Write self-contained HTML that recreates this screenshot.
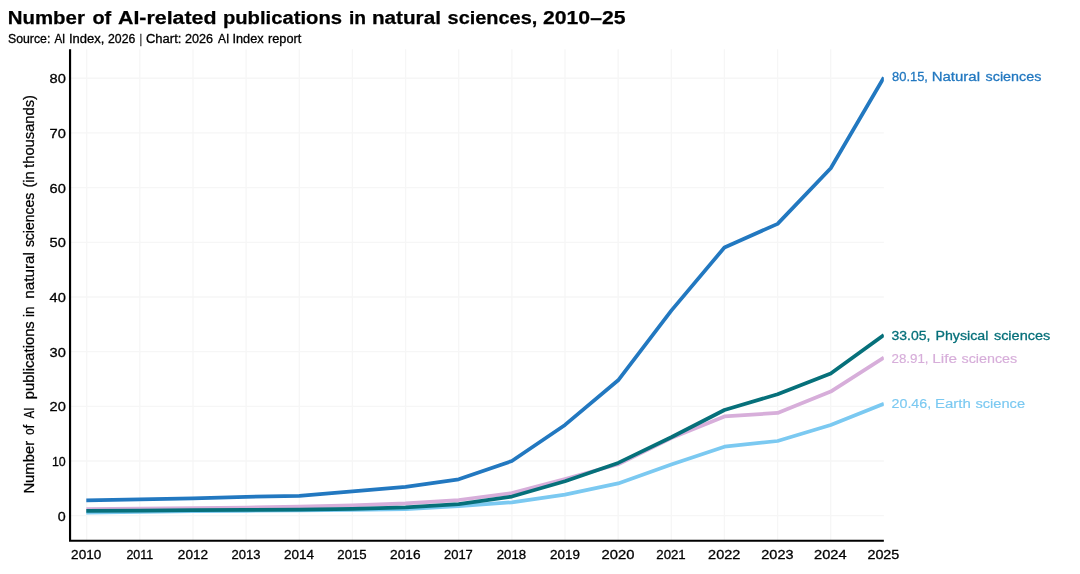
<!DOCTYPE html>
<html lang="en"><head><meta charset="utf-8"><title>Number of AI-related publications in natural sciences, 2010–25</title>
<style>
html,body{margin:0;padding:0;background:#fff;}
body{width:1080px;height:574px;overflow:hidden;font-family:"Liberation Sans",sans-serif;}
svg{display:block;}
text{font-family:"Liberation Sans",sans-serif;}
.t{font-weight:bold;font-size:18.8px;fill:#000;stroke:#000;stroke-width:.25px;}
.s{font-size:12px;fill:#000;stroke:#000;stroke-width:.3px;}
.k{font-size:13px;fill:#000;stroke:#000;stroke-width:.3px;}
.l{font-size:13.7px;stroke-width:.15px;}
.b{stroke-width:.3px;}
.yl{font-size:14.5px;fill:#000;stroke:#000;stroke-width:.25px;}
.ln polyline{fill:none;stroke-width:3.75;stroke-linejoin:round;stroke-linecap:butt;}
</style></head><body>
<svg width="1080" height="574" viewBox="0 0 1080 574">
<defs><clipPath id="ax"><rect x="70.05" y="49.3" width="813.8000000000001" height="491.40000000000003"/></clipPath></defs>
<rect width="1080" height="574" fill="#fff"/>
<path d="M86.70 49.3V540.7M139.84 49.3V540.7M192.99 49.3V540.7M246.13 49.3V540.7M299.28 49.3V540.7M352.43 49.3V540.7M405.57 49.3V540.7M458.72 49.3V540.7M511.86 49.3V540.7M565.00 49.3V540.7M618.15 49.3V540.7M671.30 49.3V540.7M724.44 49.3V540.7M777.59 49.3V540.7M830.73 49.3V540.7M70.05 515.70H883.85M70.05 461.02H883.85M70.05 406.34H883.85M70.05 351.66H883.85M70.05 296.98H883.85M70.05 242.30H883.85M70.05 187.62H883.85M70.05 132.94H883.85M70.05 78.26H883.85" stroke="#f6f6f6" stroke-width="1.3" fill="none"/>
<g class="ln" clip-path="url(#ax)">
<polyline points="86.30,500.28 139.84,499.41 192.99,498.31 246.13,496.89 299.28,495.80 352.43,491.37 405.57,486.88 458.72,479.34 511.86,461.02 565.00,424.93 618.15,380.31 671.30,310.65 724.44,247.49 777.59,223.87 830.73,168.26 883.88,77.44" stroke="#2278c0"/>
<polyline points="86.30,509.14 139.84,508.70 192.99,508.15 246.13,507.50 299.28,506.62 352.43,505.31 405.57,503.29 458.72,500.01 511.86,493.12 565.00,479.06 618.15,464.30 671.30,438.05 724.44,416.46 777.59,412.90 830.73,391.58 883.88,357.62" stroke="#d7aeda"/>
<polyline points="86.30,512.53 139.84,511.76 192.99,511.22 246.13,510.78 299.28,510.40 352.43,509.79 405.57,509.03 458.72,506.13 511.86,502.30 565.00,494.59 618.15,483.44 671.30,464.57 724.44,446.69 777.59,441.01 830.73,424.93 883.88,403.82" stroke="#7bc9f1"/>
<polyline points="86.30,510.78 139.84,510.51 192.99,510.23 246.13,509.90 299.28,509.69 352.43,508.76 405.57,507.39 458.72,504.22 511.86,496.56 565.00,481.25 618.15,462.93 671.30,437.23 724.44,410.00 777.59,394.31 830.73,373.53 883.88,334.98" stroke="#06707a"/>
</g>
<path d="M70.05 49.3V540.7H883.85" stroke="#000" stroke-width="2.15" fill="none" stroke-linejoin="miter"/>
<text class="t" y="24.4"><tspan x="7.71" textLength="77.14" lengthAdjust="spacingAndGlyphs">Number</tspan> <tspan x="92.40" textLength="18.81" lengthAdjust="spacingAndGlyphs">of</tspan> <tspan x="118.00" textLength="98.54" lengthAdjust="spacingAndGlyphs">AI-related</tspan> <tspan x="222.92" textLength="119.16" lengthAdjust="spacingAndGlyphs">publications</tspan> <tspan x="348.97" textLength="17.11" lengthAdjust="spacingAndGlyphs">in</tspan> <tspan x="371.90" textLength="69.05" lengthAdjust="spacingAndGlyphs">natural</tspan> <tspan x="447.60" textLength="89.69" lengthAdjust="spacingAndGlyphs">sciences,</tspan> <tspan x="543.00" textLength="82.50" lengthAdjust="spacingAndGlyphs">2010–25</tspan></text>
<text class="s" y="43.1"><tspan x="8.00" textLength="42.34" lengthAdjust="spacingAndGlyphs">Source:</tspan> <tspan x="54.40" textLength="10.92" lengthAdjust="spacingAndGlyphs">AI</tspan> <tspan x="68.92" textLength="35.45" lengthAdjust="spacingAndGlyphs">Index,</tspan> <tspan x="108.00" textLength="27.27" lengthAdjust="spacingAndGlyphs">2026</tspan> <tspan x="139.70" textLength="2.18" lengthAdjust="spacingAndGlyphs">|</tspan> <tspan x="146.00" textLength="35.36" lengthAdjust="spacingAndGlyphs">Chart:</tspan> <tspan x="185.00" textLength="28.06" lengthAdjust="spacingAndGlyphs">2026</tspan> <tspan x="218.00" textLength="11.33" lengthAdjust="spacingAndGlyphs">AI</tspan> <tspan x="232.54" textLength="31.06" lengthAdjust="spacingAndGlyphs">Index</tspan> <tspan x="268.00" textLength="33.29" lengthAdjust="spacingAndGlyphs">report</tspan></text>
<text class="k" y="520.7"><tspan x="57.80" textLength="7.95" lengthAdjust="spacingAndGlyphs">0</tspan></text>
<text class="k" y="466.02"><tspan x="51.90" textLength="13.82" lengthAdjust="spacingAndGlyphs">10</tspan></text>
<text class="k" y="411.34"><tspan x="49.50" textLength="16.26" lengthAdjust="spacingAndGlyphs">20</tspan></text>
<text class="k" y="356.66"><tspan x="49.50" textLength="16.26" lengthAdjust="spacingAndGlyphs">30</tspan></text>
<text class="k" y="301.98"><tspan x="49.50" textLength="16.26" lengthAdjust="spacingAndGlyphs">40</tspan></text>
<text class="k" y="247.3"><tspan x="49.50" textLength="16.26" lengthAdjust="spacingAndGlyphs">50</tspan></text>
<text class="k" y="192.62"><tspan x="49.50" textLength="16.26" lengthAdjust="spacingAndGlyphs">60</tspan></text>
<text class="k" y="137.94"><tspan x="49.50" textLength="16.26" lengthAdjust="spacingAndGlyphs">70</tspan></text>
<text class="k" y="83.26"><tspan x="49.50" textLength="16.26" lengthAdjust="spacingAndGlyphs">80</tspan></text>
<text class="k" y="559.4"><tspan x="71.10" textLength="30.14" lengthAdjust="spacingAndGlyphs">2010</tspan></text>
<text class="k" y="559.4"><tspan x="126.40" textLength="26.82" lengthAdjust="spacingAndGlyphs">2011</tspan></text>
<text class="k" y="559.4"><tspan x="177.80" textLength="30.34" lengthAdjust="spacingAndGlyphs">2012</tspan></text>
<text class="k" y="559.4"><tspan x="231.60" textLength="28.93" lengthAdjust="spacingAndGlyphs">2013</tspan></text>
<text class="k" y="559.4"><tspan x="284.00" textLength="30.04" lengthAdjust="spacingAndGlyphs">2014</tspan></text>
<text class="k" y="559.4"><tspan x="337.30" textLength="29.33" lengthAdjust="spacingAndGlyphs">2015</tspan></text>
<text class="k" y="559.4"><tspan x="390.10" textLength="30.44" lengthAdjust="spacingAndGlyphs">2016</tspan></text>
<text class="k" y="559.4"><tspan x="444.00" textLength="28.83" lengthAdjust="spacingAndGlyphs">2017</tspan></text>
<text class="k" y="559.4"><tspan x="496.70" textLength="29.43" lengthAdjust="spacingAndGlyphs">2018</tspan></text>
<text class="k" y="559.4"><tspan x="550.10" textLength="29.84" lengthAdjust="spacingAndGlyphs">2019</tspan></text>
<text class="k" y="559.4"><tspan x="601.50" textLength="32.86" lengthAdjust="spacingAndGlyphs">2020</tspan></text>
<text class="k" y="559.4"><tspan x="656.30" textLength="29.43" lengthAdjust="spacingAndGlyphs">2021</tspan></text>
<text class="k" y="559.4"><tspan x="708.10" textLength="32.16" lengthAdjust="spacingAndGlyphs">2022</tspan></text>
<text class="k" y="559.4"><tspan x="761.30" textLength="32.16" lengthAdjust="spacingAndGlyphs">2023</tspan></text>
<text class="k" y="559.4"><tspan x="814.00" textLength="32.56" lengthAdjust="spacingAndGlyphs">2024</tspan></text>
<text class="k" y="559.4"><tspan x="867.40" textLength="31.95" lengthAdjust="spacingAndGlyphs">2025</tspan></text>
<text class="l b" fill="#2278c0" stroke="#2278c0" y="81.3"><tspan x="892.00" textLength="35.96" lengthAdjust="spacingAndGlyphs">80.15,</tspan> <tspan x="931.70" textLength="48.34" lengthAdjust="spacingAndGlyphs">Natural</tspan> <tspan x="985.60" textLength="55.74" lengthAdjust="spacingAndGlyphs">sciences</tspan></text>
<text class="l b" fill="#06707a" stroke="#06707a" y="339.9"><tspan x="891.50" textLength="38.92" lengthAdjust="spacingAndGlyphs">33.05,</tspan> <tspan x="935.46" textLength="52.88" lengthAdjust="spacingAndGlyphs">Physical</tspan> <tspan x="993.90" textLength="56.33" lengthAdjust="spacingAndGlyphs">sciences</tspan></text>
<text class="l" fill="#d7aeda" stroke="#d7aeda" y="362.9"><tspan x="891.50" textLength="37.08" lengthAdjust="spacingAndGlyphs">28.91,</tspan> <tspan x="932.18" textLength="24.81" lengthAdjust="spacingAndGlyphs">Life</tspan> <tspan x="961.50" textLength="55.74" lengthAdjust="spacingAndGlyphs">sciences</tspan></text>
<text class="l" fill="#7bc9f1" stroke="#7bc9f1" y="408.2"><tspan x="891.50" textLength="39.74" lengthAdjust="spacingAndGlyphs">20.46,</tspan> <tspan x="935.00" textLength="35.87" lengthAdjust="spacingAndGlyphs">Earth</tspan> <tspan x="975.40" textLength="49.66" lengthAdjust="spacingAndGlyphs">science</tspan></text>
<text class="yl" transform="translate(33.9,492.6) rotate(-90)" y="0"><tspan x="-1.02" textLength="52.75" lengthAdjust="spacingAndGlyphs">Number</tspan> <tspan x="57.70" textLength="10.09" lengthAdjust="spacingAndGlyphs">of</tspan> <tspan x="74.20" textLength="10.92" lengthAdjust="spacingAndGlyphs">AI</tspan> <tspan x="93.40" textLength="77.95" lengthAdjust="spacingAndGlyphs">publications</tspan> <tspan x="175.50" textLength="10.46" lengthAdjust="spacingAndGlyphs">in</tspan> <tspan x="193.80" textLength="46.73" lengthAdjust="spacingAndGlyphs">natural</tspan> <tspan x="245.50" textLength="54.24" lengthAdjust="spacingAndGlyphs">sciences</tspan> <tspan x="305.10" textLength="16.26" lengthAdjust="spacingAndGlyphs">(in</tspan> <tspan x="324.70" textLength="72.94" lengthAdjust="spacingAndGlyphs">thousands)</tspan></text>
</svg></body></html>
